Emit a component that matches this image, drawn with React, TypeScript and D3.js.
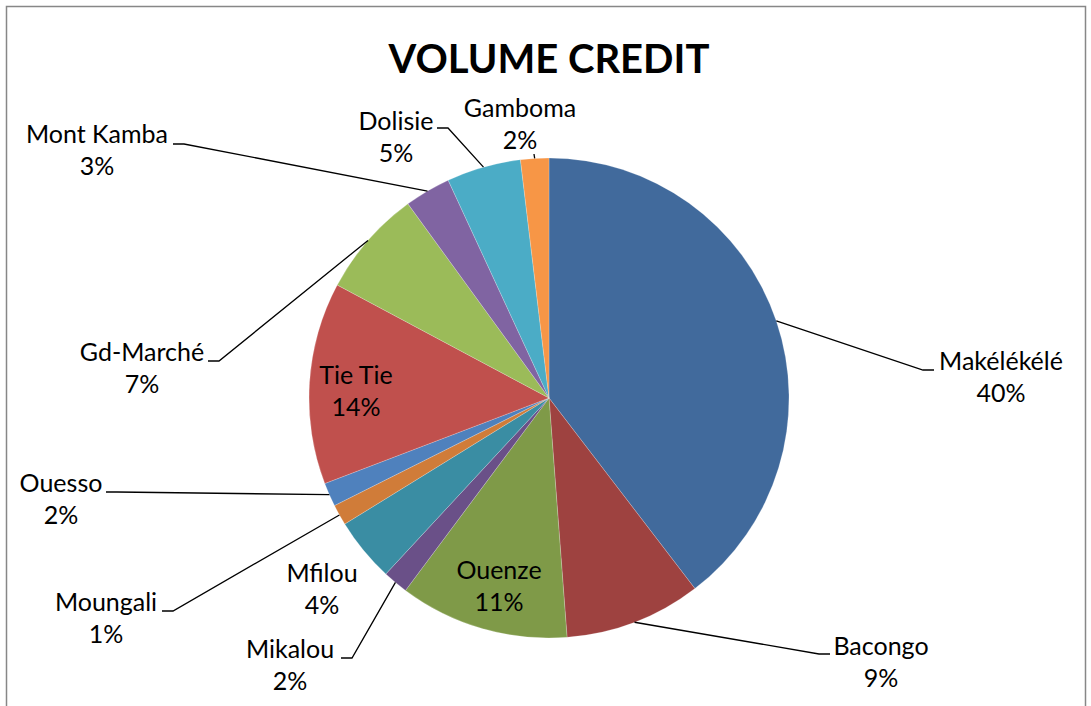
import React, { useEffect, useRef } from "react";
import * as d3 from "d3";

// slices, clockwise from 12 o'clock
const agencies = [
  "Makélékélé", "Bacongo", "Ouenze", "Mikalou", "Mfilou", "Moungali",
  "Ouesso", "Tie Tie", "Gd-Marché", "Mont Kamba", "Dolisie", "Gamboma",
];
const shares = [39.6, 9.2, 11.4, 1.7, 4.3, 1.4, 1.6, 13.6, 7.2, 3.1, 5.0, 1.9];
const colors = [
  "#416a9c", "#9e4240", "#7f9a48", "#6a5088", "#3a8da3", "#d07c39",
  "#4f81bd", "#c0504d", "#9bbb59", "#8064a2", "#4bacc6", "#f79646",
];

// label placement: text centre x, first baseline y, leader end (null = no leader)
// side: 1 label right of pie, -1 left, 0 straight leader
const labelPos: { tx: number; ty: number; end: [number, number] | null; side: number }[] = [
  { tx: 1001, ty: 370, end: [934, 370], side: 1 },
  { tx: 881, ty: 655, end: [830, 654], side: 1 },
  { tx: 499, ty: 579, end: null, side: 0 },
  { tx: 290, ty: 658, end: [341, 658], side: -1 },
  { tx: 322, ty: 582, end: null, side: 0 },
  { tx: 106, ty: 611, end: [162, 611], side: -1 },
  { tx: 61, ty: 492, end: [106, 492], side: -1 },
  { tx: 356, ty: 384, end: null, side: 0 },
  { tx: 142, ty: 361, end: [208, 361], side: -1 },
  { tx: 97, ty: 143, end: [173, 144], side: -1 },
  { tx: 396, ty: 130, end: [437, 128], side: -1 },
  { tx: 520, ty: 117, end: [534, 154], side: 0 },
];

const W = 1091;
const H = 706;
const FONT = "Lato, 'Open Sans', sans-serif";

const App: React.FC = () => {
  const ref = useRef<SVGSVGElement>(null);

  useEffect(() => {
    if (!ref.current) return;
    const svg = d3.select(ref.current);
    svg.selectAll("*").remove();

    const cx = 549;
    const cy = 398;
    const r = 240;

    svg.append("rect").attr("width", W).attr("height", H).attr("fill", "#fff");
    svg.append("rect")
      .attr("x", 6.5).attr("y", 6.5)
      .attr("width", 1079).attr("height", 740)
      .attr("fill", "none").attr("stroke", "#878787").attr("stroke-width", 1.5);

    svg.append("text")
      .attr("x", cx).attr("y", 73)
      .attr("text-anchor", "middle")
      .attr("font-family", FONT).attr("font-weight", 700).attr("font-size", 40)
      .text("VOLUME CREDIT");

    const data = agencies.map((name, i) => ({ name, value: shares[i], i }));
    const pie = d3.pie<typeof data[0]>().value((d) => d.value).sort(null);
    const arcs = pie(data);
    const arc = d3.arc<d3.PieArcDatum<typeof data[0]>>().innerRadius(0).outerRadius(r);

    const g = svg.append("g").attr("transform", `translate(${cx},${cy})`);
    g.selectAll("path")
      .data(arcs)
      .enter().append("path")
      .attr("d", arc)
      .attr("fill", (d) => colors[d.data.i])
      .attr("stroke", "#ffffff")
      .attr("stroke-opacity", 0.35)
      .attr("stroke-width", 0.6);

    // leader lines: from slice mid-angle on the rim, to an elbow, then a short flat run
    arcs.forEach((a) => {
      const lp = labelPos[a.data.i];
      if (!lp.end) return;
      const mid = (a.startAngle + a.endAngle) / 2;
      const px = cx + r * Math.sin(mid);
      const py = cy - r * Math.cos(mid);
      const [ex, ey] = lp.end;
      const pts: [number, number][] = [[px, py], [ex - lp.side * 11, ey], [ex, ey]];
      svg.append("path")
        .attr("d", d3.line()(pts))
        .attr("fill", "none")
        .attr("stroke", "#000")
        .attr("stroke-width", 1.3);
    });

    const fmt = d3.format(".0f");
    arcs.forEach((a) => {
      const lp = labelPos[a.data.i];
      const t = svg.append("text")
        .attr("text-anchor", "middle")
        .attr("font-family", FONT)
        .attr("font-size", 25)
        .attr("fill", "#000");
      t.append("tspan").attr("x", lp.tx).attr("y", lp.ty).text(a.data.name);
      t.append("tspan").attr("x", lp.tx).attr("y", lp.ty + 32).text(`${fmt(a.data.value)}%`);
    });
  }, []);

  return (
    <svg
      ref={ref}
      width={W}
      height={H}
      style={{ position: "absolute", left: 0, top: 0, display: "block" }}
    />
  );
};

export default App;
